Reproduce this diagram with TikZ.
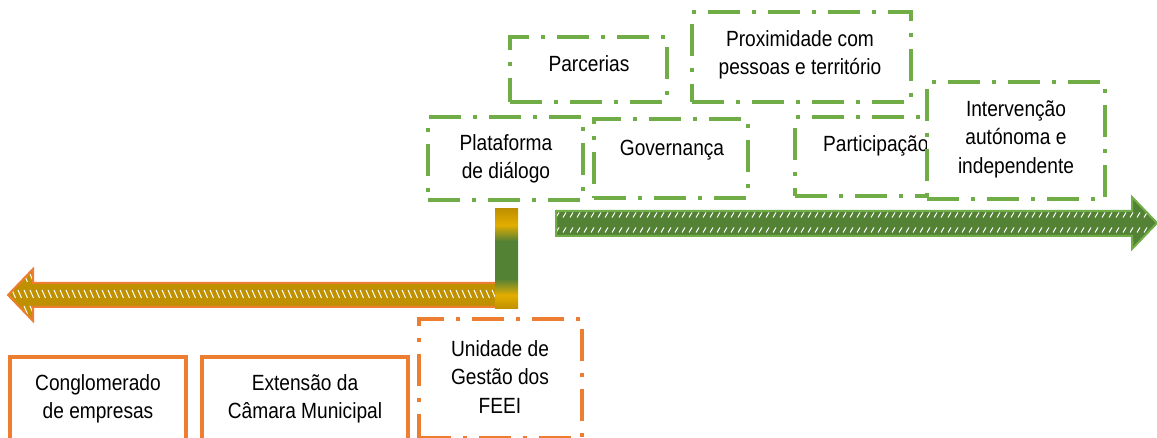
\documentclass[tikz,border=0pt]{standalone}
\usepackage{fontspec}
\setmainfont{Liberation Sans}[FakeStretch=0.87]
\definecolor{lgreen}{HTML}{70AD47}
\definecolor{dgreen}{HTML}{548235}
\definecolor{orng}{HTML}{ED7D31}
\definecolor{gold}{HTML}{BF9000}
\definecolor{ygold}{HTML}{E3AD00}
\pgfdeclareverticalshading{goldgreenbar}{100bp}{color(0bp)=(gold); color(25bp)=(gold); color(32bp)=(ygold); color(40bp)=(dgreen); color(59bp)=(dgreen); color(67bp)=(ygold); color(75bp)=(gold); color(100bp)=(gold)}
\tikzset{
  boxbase/.style={rectangle, inner sep=0pt, outer sep=0pt, line width=3.8pt, fill=white},
  gbox/.style={boxbase, draw=lgreen, dash pattern=on 32pt off 12pt on 4pt off 12pt},
  obox/.style={boxbase, draw=orng, dash pattern=on 32pt off 12pt on 4pt off 12pt},
  osolid/.style={boxbase, draw=orng},
  txt/.style={font=\fontsize{22}{28.5}\selectfont, align=center, inner sep=0pt, text=black},
  hatchline/.style={white, line width=1pt}
}
\begin{document}
\begin{tikzpicture}[x=1pt,y=-1pt]
\path[use as bounding box, clip] (0,0) rectangle (1157,438);

% green boxes
\node[gbox, minimum width=157pt, minimum height=65pt] (parc) at (588.5,69.5) {};
\node[txt] (parct) at (589,64) {Parcerias};
\node[gbox, minimum width=219pt, minimum height=90pt] (prox) at (801.5,57) {};
\node[txt] (proxt) at (800,55) {Proximidade com\\pessoas e território};
\node[gbox, minimum width=155pt, minimum height=83pt] (plat) at (505.5,158.5) {};
\node[txt] (platt) at (506,159) {Plataforma\\de diálogo};
\node[gbox, minimum width=154pt, minimum height=79pt] (gov) at (671,158.5) {};
\node[txt] (govt) at (672,150) {Governança};
\node[gbox, minimum width=165pt, minimum height=79pt] (part) at (877.5,156.5) {};
\node[txt, anchor=west] (partt) at (823,146) {Participação};
\node[gbox, minimum width=178pt, minimum height=117pt] (interv) at (1016,140.5) {};
\node[txt] (intervt) at (1016,139) {Intervenção\\autónoma e\\independente};

% orange arrow (left)
\def\orangearrow{(498,283) -- (33,283) -- (33,269) -- (8,295) -- (33,321) -- (33,307) -- (498,307) -- cycle}
\fill[gold] \orangearrow;
\begin{scope}
  \clip \orangearrow;
  \foreach \y in {278,294,310}
    \foreach \x in {6,12,...,500}
      \draw[hatchline] (\x,\y-4) -- (\x+3.5,\y+4);
\end{scope}
\draw[orng, line width=2pt, line join=miter] \orangearrow;

% gradient bar
\shade[shading=goldgreenbar] (495,209) rectangle (518,309);

% green arrow (right)
\def\greenarrow{(556,211) -- (1132,211) -- (1132,197) -- (1157,223) -- (1132,249) -- (1132,236) -- (556,236) -- cycle}
\fill[dgreen] \greenarrow;
\begin{scope}
  \clip \greenarrow;
  \foreach \y in {200,215,230,245}
    \foreach \x in {556,563,...,1160}
      \draw[hatchline] (\x,\y+2.5) -- (\x+3,\y-2.5);
\end{scope}
\draw[lgreen, line width=2pt] \greenarrow;

% orange boxes
\node[osolid, minimum width=176pt, minimum height=93pt] (cong) at (98,403.5) {};
\node[txt] (congt) at (98,399) {Conglomerado\\de empresas};
\node[osolid, minimum width=206pt, minimum height=93pt] (ext) at (305,403.5) {};
\node[txt] (extt) at (305,399) {Extensão da\\Câmara Municipal};
\node[obox, minimum width=163pt, minimum height=119pt] (unid) at (500.5,378.5) {};
\node[txt] (unidt) at (500,377) {Unidade de\\Gestão dos\\FEEI};
\end{tikzpicture}
\end{document}
